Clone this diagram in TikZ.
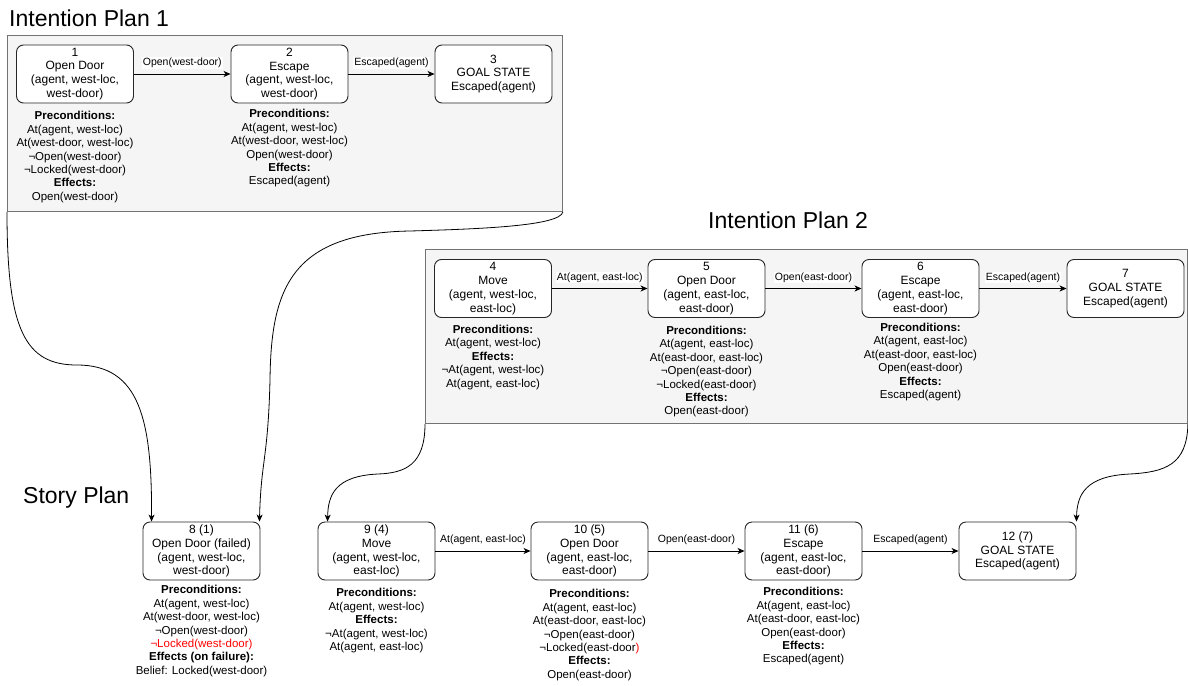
\documentclass[tikz,border=0pt]{standalone}
\usepackage{fontspec}
\setmainfont{Liberation Sans}
\usetikzlibrary{arrows.meta}
\begin{document}
\begin{tikzpicture}[x=1pt,y=-1pt,
 box/.style={draw=black!85, line width=0.9pt, rounded corners=7pt, fill=white, minimum width=117pt, minimum height=58pt, inner sep=0pt, align=center, font=\fontsize{12}{13.8}\selectfont},
 info/.style={anchor=north, inner sep=0pt, align=center, font=\fontsize{11.5}{13.4}\selectfont},
 panel/.style={draw=black!55, fill=black!4, line width=0.9pt, inner sep=0pt, anchor=north west},
 arr/.style={line width=0.9pt, -{Stealth[length=7pt,width=6pt,inset=2pt]}},
 lbl/.style={fill=white, inner sep=1pt, font=\fontsize{10.5}{12}\selectfont, yshift=11pt},
 title/.style={anchor=base west, inner sep=0pt, font=\fontsize{23}{27}\selectfont},
 link/.style={line width=0.8pt, -{Stealth[length=7pt,width=6pt,inset=2pt]}}
]
\useasboundingbox (0,0) rectangle (1188,685);

% titles
\node[title] (t1) at (9,27) {Intention Plan 1};
\node[title] (t2) at (708,228) {Intention Plan 2};
\node[title] (t3) at (23,503) {Story Plan};

% panels
\node[panel, minimum width=555pt, minimum height=176pt] (P1) at (7,35) {};
\node[panel, minimum width=762pt, minimum height=174pt] (P2) at (425,249) {};

% Intention plan 1
\node[box] (n1) at (75,74) {1\\Open Door\\(agent, west-loc,\\west-door)};
\node[box] (n2) at (289.5,74) {2\\Escape\\(agent, west-loc,\\west-door)};
\node[box] (n3) at (493.5,74) {3\\GOAL STATE\\Escaped(agent)};
\node[info] (i1) at ([yshift=-8pt]n1.south) {\textbf{Preconditions:}\\At(agent, west-loc)\\At(west-door, west-loc)\\¬Open(west-door)\\¬Locked(west-door)\\\textbf{Effects:}\\Open(west-door)};
\node[info] (i2) at ([yshift=-6pt]n2.south) {\textbf{Preconditions:}\\At(agent, west-loc)\\At(west-door, west-loc)\\Open(west-door)\\\textbf{Effects:}\\Escaped(agent)};
\draw[arr] (n1) -- (n2) node[midway, lbl] {Open(west-door)};
\draw[arr] (n2) -- (n3) node[midway, lbl] {Escaped(agent)};

% Intention plan 2
\node[box] (n4) at (493,288.5) {4\\Move\\(agent, west-loc,\\east-loc)};
\node[box] (n5) at (706.5,288.5) {5\\Open Door\\(agent, east-loc,\\east-door)};
\node[box] (n6) at (920.5,288.5) {6\\Escape\\(agent, east-loc,\\east-door)};
\node[box] (n7) at (1125.5,288.5) {7\\GOAL STATE\\Escaped(agent)};
\node[info] (i4) at ([yshift=-7pt]n4.south) {\textbf{Preconditions:}\\At(agent, west-loc)\\\textbf{Effects:}\\¬At(agent, west-loc)\\At(agent, east-loc)};
\node[info] (i5) at ([yshift=-8pt]n5.south) {\textbf{Preconditions:}\\At(agent, east-loc)\\At(east-door, east-loc)\\¬Open(east-door)\\¬Locked(east-door)\\\textbf{Effects:}\\Open(east-door)};
\node[info] (i6) at ([yshift=-5pt]n6.south) {\textbf{Preconditions:}\\At(agent, east-loc)\\At(east-door, east-loc)\\Open(east-door)\\\textbf{Effects:}\\Escaped(agent)};
\draw[arr] (n4) -- (n5) node[midway, lbl] {At(agent, east-loc)};
\draw[arr] (n5) -- (n6) node[midway, lbl] {Open(east-door)};
\draw[arr] (n6) -- (n7) node[midway, lbl] {Escaped(agent)};

% Story plan
\node[box] (n8) at (201.5,551) {8 (1)\\Open Door (failed)\\(agent, west-loc,\\west-door)};
\node[box] (n9) at (376.5,551) {9 (4)\\Move\\(agent, west-loc,\\east-loc)};
\node[box] (n10) at (589.5,551) {10 (5)\\Open Door\\(agent, east-loc,\\east-door)};
\node[box] (n11) at (803.5,551) {11 (6)\\Escape\\(agent, east-loc,\\east-door)};
\node[box] (n12) at (1017.5,551) {12 (7)\\GOAL STATE\\Escaped(agent)};
\node[info] (i8) at ([yshift=-5pt]n8.south) {\textbf{Preconditions:}\\At(agent, west-loc)\\At(west-door, west-loc)\\¬Open(west-door)\\\textcolor{red}{¬Locked(west-door)}\\\textbf{Effects (on failure):}\\Belief: Locked(west-door)};
\node[info] (i9) at ([yshift=-8pt]n9.south) {\textbf{Preconditions:}\\At(agent, west-loc)\\\textbf{Effects:}\\¬At(agent, west-loc)\\At(agent, east-loc)};
\node[info] (i10) at ([yshift=-9pt]n10.south) {\textbf{Preconditions:}\\At(agent, east-loc)\\At(east-door, east-loc)\\¬Open(east-door)\\¬Locked(east-door\textcolor{red}{)}\\\textbf{Effects:}\\Open(east-door)};
\node[info] (i11) at ([yshift=-7pt]n11.south) {\textbf{Preconditions:}\\At(agent, east-loc)\\At(east-door, east-loc)\\Open(east-door)\\\textbf{Effects:}\\Escaped(agent)};
\draw[arr] (n9) -- (n10) node[midway, lbl] {At(agent, east-loc)};
\draw[arr] (n10) -- (n11) node[midway, lbl] {Open(east-door)};
\draw[arr] (n11) -- (n12) node[midway, lbl] {Escaped(agent)};

% links from intention plans to story plan
\draw[link] (P1.south west) .. controls (7,330) and (25,365) .. (77,365) .. controls (140,365) and (152,420) .. ([xshift=9pt]n8.north west);
\draw[link] (P1.south east) .. controls (560,226) and (480,229) .. (410,231) .. controls (290,233) and (271,290) .. (270,380) .. controls (268,460) and (261,460) .. ([xshift=-1pt]n8.north east);
\draw[link] (P2.south west) .. controls (425,465) and (405,473) .. (378,474) .. controls (335,476) and (328,495) .. ([xshift=10pt]n9.north west);
\draw[link] (P2.south east) .. controls (1187,465) and (1165,472) .. (1130,474) .. controls (1085,476) and (1077,495) .. (n12.north east);
\end{tikzpicture}
\end{document}
